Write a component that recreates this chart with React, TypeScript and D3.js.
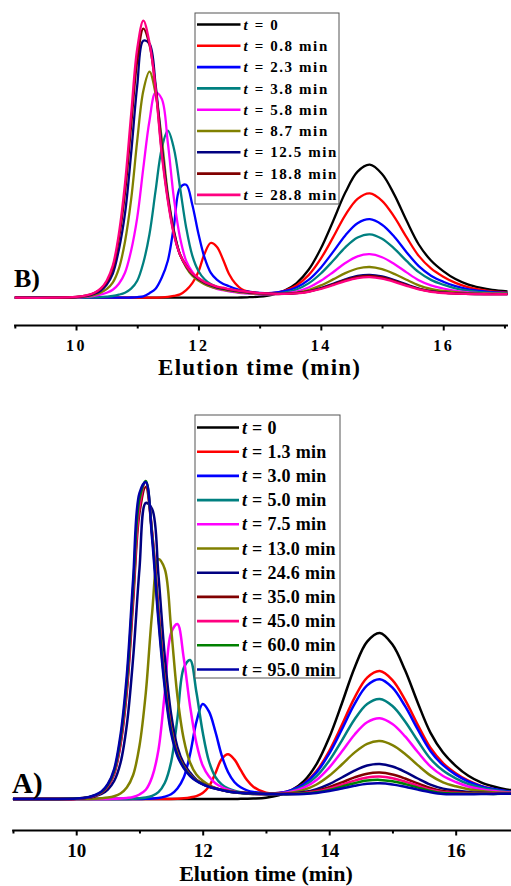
import React, { useEffect, useRef } from "react";
import * as d3 from "d3";

const timeGrid = [
  9.0, 9.6, 10.0, 10.2, 10.3, 10.4, 10.5, 10.6, 10.7, 10.8,
  10.9, 11.0, 11.1, 11.2, 11.3, 11.4, 11.5, 11.6, 11.7, 11.8,
  11.9, 12.0, 12.1, 12.2, 12.3, 12.4, 12.5, 12.6, 12.7, 12.8,
  13.0, 13.2, 13.4, 13.6, 13.8, 14.0, 14.2, 14.4, 14.6, 14.8,
  15.0, 15.2, 15.4, 15.6, 15.8, 16.0, 16.2, 16.4, 16.6, 16.8,
  17.05,
];

const majorTicks = [10, 12, 14, 16];
const minorTicks = [9, 11, 13, 15, 17];

// ---- panel B ----
const labelsB = ["0", "0.8", "2.3", "3.8", "5.8", "8.7", "12.5", "18.8", "28.8"];
const colorsB = ["#000000", "#ff0000", "#0000ff", "#008080", "#ff00ff", "#808000", "#000080", "#800000", "#ff0080"];

const b_0 = [
  0, 0, 0, 0, 0, 0, 0, 0, 0, 0,
  0, 0, 0, 0, 0, 0, 0, 0, 0, 0,
  0, 0, 0, 0, 0, 0, 0, 0.1, 0.2, 0.4,
  1.1, 2.9, 6.9, 14.4, 27.9, 49.2, 76.5, 105.1, 126.1, 133,
  123.7, 103.1, 77.1, 53.2, 37.2, 26.6, 18.6, 13.3, 10.0, 7.7,
  6.3,
];
const b_08 = [
  0, 0, 0, 0, 0, 0, 0, 0, 0, 0,
  0, 0, 0, 0, 0.1, 0.3, 0.8, 1.8, 3.3, 7.5,
  14.5, 26, 44, 54.7, 51, 38.5, 23.7, 14.4, 8.8, 6.3,
  4.2, 4.5, 6.9, 12.3, 22.6, 39.1, 60.3, 82.6, 98.9, 104.3,
  96.9, 80.8, 60.5, 41.8, 29.3, 21.0, 14.8, 10.6, 8.0, 6.2,
  5.1,
];
const b_23 = [
  0, 0, 0, 0, 0, 0, 0, 0, 0, 0,
  0.2, 0.6, 1.4, 4.5, 9, 20, 37, 72, 110, 113,
  93, 64, 40, 25, 18, 14, 11.5, 9, 7.2, 6.2,
  4.8, 4.9, 6.5, 10.2, 17.8, 30.0, 45.8, 62.3, 74.5, 78.5,
  72.9, 60.9, 45.5, 31.5, 22.0, 16.0, 11.5, 8.6, 6.8, 5.5,
  4.9,
];
const b_38 = [
  0, 0, 0, 0.1, 0.3, 0.5, 1.0, 1.7, 3, 5,
  9, 17, 35, 63.5, 107, 149, 167, 149, 110, 70,
  42, 26.7, 18.4, 13.7, 10.9, 8.4, 6.8, 5.8, 5.0, 4.5,
  3.7, 3.8, 5.1, 8.2, 14.3, 24.2, 36.9, 50.4, 60.2, 63.4,
  59.0, 49.1, 36.8, 25.5, 17.8, 13.0, 9.4, 7.1, 5.6, 4.7,
  4.2,
];
const b_58 = [
  0, 0, 0.2, 1.0, 1.8, 3, 5, 8, 14, 25,
  47, 80, 130, 177, 205, 199, 155, 99, 60, 36.7,
  25.7, 18.3, 14, 11.1, 8.9, 7.6, 6.4, 5.5, 4.7, 4.3,
  3.4, 3.4, 4.1, 6.1, 10.2, 16.9, 25.5, 34.7, 41.4, 43.5,
  40.5, 33.7, 25.3, 17.5, 12.3, 9.2, 6.8, 5.3, 4.5, 4.0,
  3.6,
];
const b_87 = [
  0, 0, 0.3, 1.5, 2.8, 5, 8.5, 15, 29, 56,
  98, 157, 207, 226, 204, 159, 104, 67, 43, 30.4,
  22, 17.2, 13.6, 11.1, 9.3, 8.2, 7, 6.1, 5.3, 4.9,
  3.8, 3.5, 3.8, 5.0, 7.7, 12.3, 18.3, 24.6, 29.2, 30.7,
  28.5, 23.8, 17.9, 12.4, 8.8, 6.8, 5.5, 4.6, 4.3, 4.0,
  4.0,
];
const b_125 = [
  0, 0, 0.5, 2, 4, 7, 13, 24, 48, 84,
  144, 212, 257, 254, 213, 152, 101, 66, 43, 31.5,
  23.7, 18.6, 15, 12.4, 10.3, 9, 8, 7, 6.2, 5.4,
  4.5, 3.9, 3.8, 4.5, 6.3, 9.5, 13.9, 18.4, 21.8, 22.8,
  21.2, 17.7, 13.3, 9.2, 6.6, 5.2, 4.4, 3.9, 3.7, 3.6,
  3.6,
];
const b_188 = [
  0, 0, 0.7, 2.6, 4.7, 8.5, 15.5, 29, 59, 105,
  172, 237, 269, 253, 210, 147, 99, 64, 43, 32,
  24, 19.2, 15.4, 12.9, 10.7, 9.5, 8.3, 7.3, 6.5, 5.7,
  4.6, 4.0, 3.9, 4.5, 6.2, 9.2, 13.3, 17.6, 20.8, 21.8,
  20.2, 16.9, 12.7, 8.8, 6.3, 5.0, 4.2, 3.8, 3.6, 3.5,
  3.6,
];
const b_288 = [
  0, 0, 0.8, 2.8, 5, 9, 17, 32, 64, 114,
  183, 249, 277, 255, 209, 144, 97, 63, 43, 32,
  24.4, 19.7, 15.8, 13.3, 11.1, 10, 8.6, 7.5, 6.7, 5.9,
  4.6, 4.0, 3.8, 4.3, 5.9, 8.7, 12.5, 16.6, 19.6, 20.5,
  19.0, 15.9, 11.9, 8.3, 5.9, 4.7, 4.1, 3.7, 3.5, 3.4,
  3.5,
];
const seriesB = [b_0, b_08, b_23, b_38, b_58, b_87, b_125, b_188, b_288];

// ---- panel A ----
const labelsA = ["0", "1.3", "3.0", "5.0", "7.5", "13.0", "24.6", "35.0", "45.0", "60.0", "95.0"];
const colorsA = ["#000000", "#ff0000", "#0000ff", "#008080", "#ff00ff", "#808000", "#000080", "#800000", "#ff0080", "#008000", "#0000a8"];

const a_0 = [
  0, 0, 0, 0, 0, 0, 0, 0, 0, 0,
  0, 0, 0, 0, 0, 0, 0, 0, 0, 0,
  0, 0, 0, 0, 0, 0, 0, 0.2, 0.3, 0.5,
  1.3, 3.7, 8.6, 17.9, 34.9, 61.4, 95.5, 131.1, 157.4, 166,
  154.4, 128.7, 96.3, 66.4, 46.5, 33.2, 23.2, 16.6, 12.5, 9.6,
  7.8,
];
const a_13 = [
  0, 0, 0, 0, 0, 0, 0, 0, 0, 0,
  0, 0, 0, 0, 0, 0, 0.1, 0.3, 0.7, 1.5,
  2.9, 6.1, 12.6, 25.7, 40, 44.8, 39.6, 29.1, 19, 12.3,
  6.4, 6.0, 8.6, 15.3, 27.9, 48.0, 73.9, 101.2, 121.3, 127.9,
  118.9, 99.1, 74.2, 51.2, 35.9, 25.8, 18.3, 13.1, 9.9, 7.7,
  6.3,
];
const a_30 = [
  0, 0, 0, 0, 0, 0, 0, 0, 0, 0,
  0, 0, 0.2, 0.5, 1.1, 2.4, 4.7, 10.5, 21.4, 44.7,
  77, 95, 87.4, 67.5, 43.7, 27, 17, 11.7, 8.7, 7.0,
  5.6, 5.9, 8.7, 14.9, 26.6, 45.3, 69.5, 94.9, 113.6, 119.7,
  111.3, 92.8, 69.6, 48.1, 33.8, 24.4, 17.5, 12.8, 9.9, 8.0,
  6.8,
];
const a_50 = [
  0, 0, 0, 0, 0, 0, 0, 0, 0, 0.1,
  0.3, 0.7, 1.5, 3.2, 6.9, 16, 36.8, 80.6, 131, 139,
  107, 66.7, 37.5, 22.2, 14.6, 10.6, 8.3, 6.8, 5.8, 5.1,
  4.4, 5.3, 7.9, 13.0, 22.8, 38.3, 58.4, 79.5, 95.0, 100.0,
  93.0, 77.5, 58.2, 40.3, 28.4, 20.7, 15.0, 11.3, 8.9, 7.3,
  6.3,
];
const a_75 = [
  0, 0, 0, 0, 0, 0, 0, 0.2, 0.4, 1.0,
  2, 4.5, 9.2, 22, 49, 106, 166, 175, 141, 93,
  56, 33.4, 22.4, 15.8, 12, 9.3, 7.6, 6.4, 5.7, 5.1,
  4.8, 5.4, 7.2, 11.3, 19.0, 31.4, 47.4, 64.3, 76.7, 80.7,
  75.0, 62.6, 47.0, 32.6, 23.0, 17.0, 12.5, 9.7, 7.9, 6.7,
  5.9,
];
const a_130 = [
  0, 0, 0, 0.1, 0.3, 0.7, 1.4, 2.8, 5.5, 11.5,
  24, 53, 106, 186, 240, 230, 171, 103, 60, 36.5,
  24.5, 18.2, 14, 11, 9, 7.6, 6.6, 5.9, 5.4, 5.0,
  4.9, 5.1, 6.3, 9.1, 14.5, 23.2, 34.5, 46.4, 55.2, 57.9,
  53.8, 45.0, 33.9, 23.6, 16.7, 12.7, 9.8, 8.0, 6.8, 6.2,
  5.8,
];
const a_246 = [
  0, 0, 0.2, 1.5, 2.8, 5, 9.5, 18, 36, 74,
  141, 230, 296, 290, 224, 143, 85, 52, 35.6, 26.4,
  19.3, 15.1, 12.2, 10.4, 8.9, 7.4, 6.6, 6.0, 5.6, 5.3,
  5.1, 5.0, 5.5, 6.9, 9.9, 14.9, 21.5, 28.4, 33.5, 35.0,
  32.5, 27.2, 20.5, 14.4, 10.4, 8.4, 7.0, 6.2, 5.7, 5.5,
  5.4,
];
const a_350 = [
  0, 0, 0.3, 1.6, 3.2, 6.2, 12.5, 25, 54, 107,
  197, 286, 312, 266, 189, 120, 72, 46, 33, 24.5,
  19, 15.4, 12.7, 10.9, 9.3, 8.0, 7.1, 6.5, 6.1, 5.7,
  5.2, 5.1, 5.3, 6.2, 8.2, 11.8, 16.6, 21.6, 25.3, 26.4,
  24.5, 20.5, 15.6, 11.0, 7.9, 7.0, 6.2, 5.9, 5.7, 5.7,
  5.8,
];
const a_450 = [
  0, 0, 0.3, 1.7, 3.4, 6.5, 13, 26, 56, 111,
  203, 292, 317, 267, 187, 118, 71, 45.5, 32.5, 24.2,
  18.8, 15.2, 12.6, 10.8, 9.2, 7.9, 7.0, 6.4, 6.0, 5.6,
  5.2, 5.0, 5.1, 5.8, 7.4, 10.3, 14.3, 18.4, 21.5, 22.4,
  20.7, 17.4, 13.3, 9.4, 6.8, 6.2, 5.6, 5.5, 5.4, 5.5,
  5.6,
];
const a_600 = [
  0, 0, 0.4, 1.9, 3.8, 7, 14, 28, 60, 117,
  211, 300, 318, 264, 183, 115, 69, 44.5, 32, 23.8,
  18.5, 15, 12.4, 10.7, 9.1, 7.8, 6.9, 6.3, 5.9, 5.6,
  5.1, 4.9, 4.9, 5.4, 6.7, 9.1, 12.4, 15.8, 18.4, 19.1,
  17.7, 14.9, 11.4, 8.1, 5.9, 5.5, 5.2, 5.2, 5.1, 5.3,
  5.4,
];
const a_950 = [
  0, 0, 0.4, 2, 4, 7.5, 15, 30, 64, 124,
  220, 306, 317, 260, 178, 111, 66, 43, 31, 23,
  18, 14.6, 12.1, 10.5, 8.9, 7.6, 6.7, 6.2, 5.8, 5.5,
  5.1, 4.8, 4.7, 5.0, 6.0, 7.9, 10.5, 13.2, 15.3, 15.8,
  14.6, 12.3, 9.4, 6.8, 5.0, 4.8, 4.8, 4.9, 5.1, 5.3,
  5.5,
];
const seriesA = [a_0, a_13, a_30, a_50, a_75, a_130, a_246, a_350, a_450, a_600, a_950];

const FONT = "Liberation Serif, Times New Roman, DejaVu Serif, serif";

type PanelProps = {
  series: number[][];
  colors: string[];
  labels: string[];
  xRange: [number, number];
  yDomain: [number, number];
  yRange: [number, number];
  axisY: number;
  strokeW: number;
  tickFont: number;
  tickSpacing: number;
  tickLabelY: number;
  titleY: number;
  titleFont: number;
  titleSpacing: number;
  panelLabel: string;
  panelLabelX: number;
  panelLabelY: number;
  panelLabelFont: number;
  legend: { x: number; y: number; w: number; h: number; rowY: number; rowStep: number; font: number; spacing: number; textX: number };
};

function Panel(p: PanelProps) {
  const axisRef = useRef<SVGGElement>(null);
  const x = d3.scaleLinear().domain([8.98, 17.05]).range(p.xRange);
  const y = d3.scaleLinear().domain(p.yDomain).range(p.yRange);

  const line = d3
    .line<number>()
    .x((_, i) => x(timeGrid[i]))
    .y((d) => y(d))
    .curve(d3.curveCatmullRom.alpha(0.5));

  useEffect(() => {
    const g = d3.select(axisRef.current);
    g.selectAll("*").remove();
    g.append("g")
      .call(d3.axisBottom(x).tickValues(minorTicks).tickSize(3.5).tickSizeOuter(0).tickFormat(() => ""));
    const major = g.append("g")
      .call(d3.axisBottom(x).tickValues(majorTicks).tickSize(5.5).tickSizeOuter(0).tickFormat(d3.format("d")));
    major.select(".domain").remove();
    g.selectAll(".domain").attr("stroke", "#000").attr("stroke-width", 2);
    g.selectAll(".tick line").attr("stroke", "#000").attr("stroke-width", 2);
    g.selectAll("text")
      .attr("y", p.tickLabelY)
      .attr("dy", 0)
      .attr("fill", "#000")
      .attr("font-family", FONT)
      .attr("font-weight", "bold")
      .attr("font-size", p.tickFont)
      .attr("letter-spacing", p.tickSpacing);
    // the axis group sets its own font on the wrapper; clear it
    g.selectAll("g").attr("font-family", null).attr("font-size", null);
  }, []);

  const L = p.legend;
  const xMid = (x(9) + x(17)) / 2;

  return (
    <g>
      {p.series.map((s, i) => (
        <path key={i} d={line(s) ?? ""} fill="none" stroke={p.colors[i]} strokeWidth={p.strokeW} strokeLinejoin="round" />
      ))}
      <g ref={axisRef} transform={`translate(0,${p.axisY})`} />
      <text x={xMid} y={p.titleY} textAnchor="middle" fontFamily={FONT} fontWeight="bold"
        fontSize={p.titleFont} letterSpacing={p.titleSpacing}>
        Elution time (min)
      </text>
      <text x={p.panelLabelX} y={p.panelLabelY} fontFamily={FONT} fontWeight="bold" fontSize={p.panelLabelFont}>
        {p.panelLabel}
      </text>
      <rect x={L.x} y={L.y} width={L.w} height={L.h} fill="#fff" stroke="#555" strokeWidth={1} />
      {p.labels.map((lab, i) => {
        const cy = L.rowY + i * L.rowStep;
        return (
          <g key={lab}>
            <line x1={L.x + 2} x2={L.textX - 3} y1={cy} y2={cy} stroke={p.colors[i]} strokeWidth={2.6} />
            <text x={L.textX} y={cy + L.font * 0.34} fontFamily={FONT} fontWeight="bold" fontSize={L.font}
              letterSpacing={L.spacing}>
              <tspan fontStyle="italic">t</tspan>
              {` = ${lab}${lab === "0" ? "" : " min"}`}
            </text>
          </g>
        );
      })}
    </g>
  );
}

export default function App() {
  return (
    <svg width={511} height={886} style={{ position: "absolute", left: 0, top: 0, background: "#fff" }}>
      <Panel
        series={seriesB}
        colors={colorsB}
        labels={labelsB}
        xRange={[13.6, 507.5]}
        yDomain={[0, 280]}
        yRange={[297.7, 17.7]}
        axisY={325}
        strokeW={2.3}
        tickFont={16}
        tickSpacing={2.5}
        tickLabelY={25.5}
        titleY={375}
        titleFont={23}
        titleSpacing={1.2}
        panelLabel="B)"
        panelLabelX={14}
        panelLabelY={287}
        panelLabelFont={26}
        legend={{ x: 195, y: 13, w: 144, h: 191, rowY: 24.5, rowStep: 21.3, font: 15, spacing: 1.6, textX: 243.5 }}
      />
      <Panel
        series={seriesA}
        colors={colorsA}
        labels={labelsA}
        xRange={[11.7, 522.1]}
        yDomain={[0, 320]}
        yRange={[799, 479]}
        axisY={830}
        strokeW={2.5}
        tickFont={19}
        tickSpacing={0}
        tickLabelY={27}
        titleY={880.5}
        titleFont={22}
        titleSpacing={0}
        panelLabel="A)"
        panelLabelX={12}
        panelLabelY={793}
        panelLabelFont={29}
        legend={{ x: 195, y: 415, w: 145, h: 263, rowY: 427.5, rowStep: 24.2, font: 18, spacing: 0.3, textX: 242 }}
      />
    </svg>
  );
}
